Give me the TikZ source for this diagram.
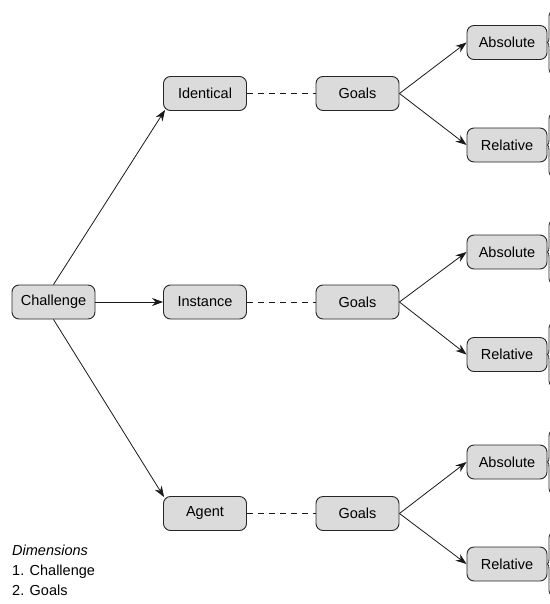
\documentclass[tikz,border=0pt]{standalone}
\usepackage{fontspec}
\setmainfont{Liberation Sans}
\usetikzlibrary{arrows.meta}
\begin{document}
\begin{tikzpicture}[x=1pt,y=-1pt,
  txt/.style={font=\fontsize{14.5}{17}\selectfont, text=black},
  box/.style={txt, draw=black!85, fill=black!14, rounded corners=7pt, line width=0.9pt,
    minimum width=83pt, minimum height=34pt, inner sep=0pt},
  rbox/.style={box, minimum width=80pt},
  arr/.style={draw=black!90, line width=0.8pt, -{Stealth[length=11pt,width=8pt]}},
  dashline/.style={draw=black!90, line width=0.8pt, dash pattern=on 6pt off 5pt},
  bracestyle/.style={draw=black!85, line width=0.8pt},
  legend/.style={txt, anchor=base west, inner sep=0pt}
]
\useasboundingbox (0,0) rectangle (549,604);

\node[box] (C) at (53.5,302) {Challenge};
\node[box] (I1) at (205,93.5) {Identical};
\node[box] (I2) at (205,302) {Instance};
\node[box] (I3) at (205,513.5) {Agent};
\node[box] (G1) at (357.5,93.5) {Goals};
\node[box] (G2) at (357.5,302) {Goals};
\node[box] (G3) at (357.5,513.5) {Goals};
\node[rbox] (A1) at (507,42.5) {Absolute};
\node[rbox] (R1) at (507,145) {Relative};
\node[rbox] (A2) at (507,252) {Absolute};
\node[rbox] (R2) at (507,354.5) {Relative};
\node[rbox] (A3) at (507,462) {Absolute};
\node[rbox] (R3) at (507,564) {Relative};

\draw[arr] (C.north) -- ([shift={(2,-1)}]I1.south west);
\draw[arr] (C) -- (I2);
\draw[arr] (C.south) -- ([shift={(1,1)}]I3.north west);

\foreach \k in {1,2,3}{
  \draw[dashline] (I\k) -- (G\k);
  \draw[arr] (G\k.east) -- (A\k.west);
  \draw[arr] (G\k.east) -- (R\k.west);
}

\foreach \n in {A1,R1,A2,R2,A3,R3}{
  \draw[bracestyle] (\n.east) ++(8,-32) .. controls +(-6,0) and +(0,-5) .. ++(-6.5,8)
    -- ++(0,18) .. controls +(0,4) and +(1,0) .. ++(-1.5,6)
    .. controls +(1,0) and +(0,-4) .. ++(1.5,6) -- ++(0,18)
    .. controls +(0,5) and +(-6,0) .. ++(6.5,8);
}

\node[legend, font=\fontsize{14.5}{17}\selectfont\itshape] (d0) at (12,555) {Dimensions};
\node[legend] (d1) at (12,575) {1. Challenge};
\node[legend] (d2) at (12,595) {2. Goals};
\end{tikzpicture}
\end{document}
